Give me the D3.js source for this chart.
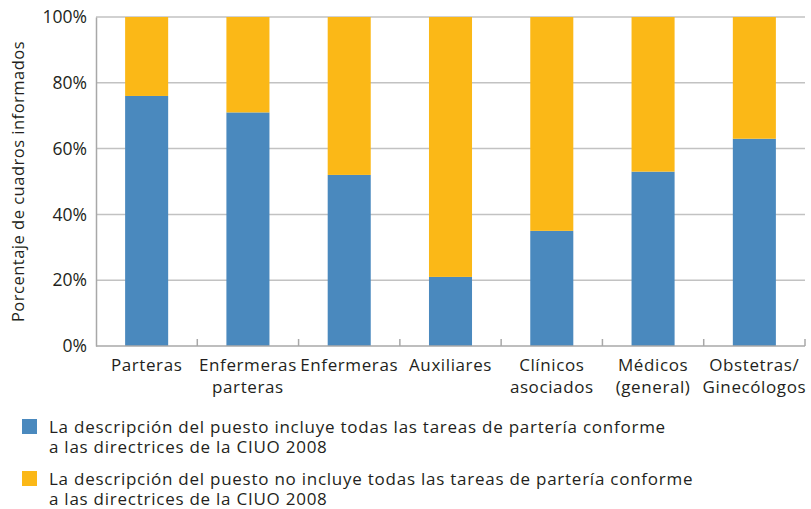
<!DOCTYPE html>
<html>
<head>
<meta charset="utf-8">
<script src="https://cdn.jsdelivr.net/npm/d3@7"></script>
<style>
  body { margin: 0; background: #fff; }
  text { font-family: "Open Sans", "Liberation Sans", sans-serif; fill: #231f20; }
</style>
</head>
<body>
<div id="chart"></div>
<script>
// categories (second line of label after "|")
var categories = ["Parteras", "Enfermeras|parteras", "Enfermeras", "Auxiliares",
                  "Clínicos|asociados", "Médicos|(general)", "Obstetras/|Ginecólogos"];
var incluye = [76, 71, 52, 21, 35, 53, 63];
var noIncluye = incluye.map(function(v) { return 100 - v; });
var yTicks = [0, 20, 40, 60, 80, 100];
var legendLabels = [
  ["La descripción del puesto incluye todas las tareas de partería conforme", "a las directrices de la CIUO 2008"],
  ["La descripción del puesto no incluye todas las tareas de partería conforme", "a las directrices de la CIUO 2008"]
];
var colors = ["#4a89be", "#fbb817"];

var width = 811, height = 509;
var mLeft = 96, mRight = 805, mTop = 17, mBottom = 346;

var svg = d3.select("#chart").append("svg")
    .attr("width", width)
    .attr("height", height);

var x = d3.scaleBand()
    .domain(categories)
    .range([mLeft, mRight])
    .paddingInner(0.575)
    .paddingOuter(0.2875);

var y = d3.scaleLinear()
    .domain([0, 100])
    .range([mBottom, mTop]);

// gridlines
svg.append("g")
    .selectAll("line")
    .data(yTicks.filter(function(d) { return d > 0; }))
    .enter().append("line")
    .attr("x1", mLeft)
    .attr("x2", mRight)
    .attr("y1", function(d) { return y(d); })
    .attr("y2", function(d) { return y(d); })
    .style("stroke", "#c2c2c2")
    .style("stroke-width", 1.5);

// stacked bars
var stack = d3.stack().keys(["a", "b"]);
var rows = categories.map(function(c, i) { return {cat: c, a: incluye[i], b: noIncluye[i]}; });
var series = stack(rows);

svg.append("g")
    .selectAll("g")
    .data(series)
    .enter().append("g")
    .style("fill", function(d, i) { return colors[i]; })
    .selectAll("rect")
    .data(function(d) { return d; })
    .enter().append("rect")
    .attr("x", function(d) { return x(d.data.cat); })
    .attr("width", x.bandwidth())
    .attr("y", function(d) { return y(d[1]); })
    .attr("height", function(d) { return y(d[0]) - y(d[1]); });

// y axis
var yAxis = svg.append("g")
    .attr("transform", "translate(" + mLeft + ",0)")
    .call(d3.axisLeft(y).tickValues(yTicks).tickSize(0).tickPadding(9)
        .tickFormat(function(d) { return d + "%"; }));
yAxis.attr("font-family", null);
yAxis.select(".domain").style("stroke", "#a8a8a8").style("stroke-width", 1.5);
yAxis.selectAll("text")
    .style("font-size", "17.5px")
    .attr("fill", "#231f20");

// bottom axis with ticks between categories
var step = x.step();
svg.append("line")
    .attr("x1", mLeft).attr("x2", mRight)
    .attr("y1", mBottom).attr("y2", mBottom)
    .style("stroke", "#a8a8a8")
    .style("stroke-width", 1.5);

svg.append("g")
    .selectAll("line")
    .data(categories)
    .enter().append("line")
    .attr("x1", function(d) { return x(d) + x.bandwidth() / 2 + step / 2; })
    .attr("x2", function(d) { return x(d) + x.bandwidth() / 2 + step / 2; })
    .attr("y1", mBottom)
    .attr("y2", mBottom - 7)
    .style("stroke", "#a8a8a8")
    .style("stroke-width", 1.5);

// category labels
var catText = svg.append("g")
    .selectAll("text")
    .data(categories)
    .enter().append("text")
    .attr("text-anchor", "middle")
    .style("font-size", "17px")
    .style("letter-spacing", "0.6px")
    .attr("x", function(d) { return x(d) + x.bandwidth() / 2; })
    .attr("y", 371);
catText.each(function(d) {
    var parts = d.split("|");
    var t = d3.select(this);
    parts.forEach(function(p, i) {
        t.append("tspan")
            .attr("x", x(d) + x.bandwidth() / 2)
            .attr("dy", i === 0 ? 0 : 22)
            .text(p);
    });
});

// y axis title
svg.append("text")
    .attr("transform", "translate(24," + ((mTop + mBottom) / 2) + ") rotate(-90)")
    .attr("text-anchor", "middle")
    .style("font-size", "16.5px")
    .style("letter-spacing", "0.5px")
    .text("Porcentaje de cuadros informados");

// legend
var legend = svg.append("g")
    .selectAll("g")
    .data(legendLabels)
    .enter().append("g")
    .attr("transform", function(d, i) { return "translate(22," + (419 + i * 52) + ")"; });

legend.append("rect")
    .attr("width", 15)
    .attr("height", 15)
    .style("fill", function(d, i) { return colors[i]; });

legend.append("text")
    .style("font-size", "17px")
    .style("letter-spacing", "0.75px")
    .attr("x", 27)
    .attr("y", 14)
    .each(function(d) {
        var t = d3.select(this);
        d.forEach(function(line, i) {
            t.append("tspan").attr("x", 27).attr("dy", i === 0 ? 0 : 20).text(line);
        });
    });
</script>
</body>
</html>
